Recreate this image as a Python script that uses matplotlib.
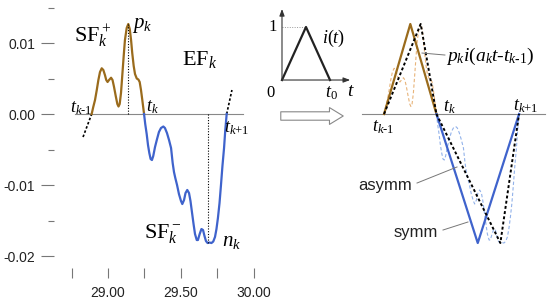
import matplotlib
matplotlib.use("Agg")
import matplotlib.pyplot as plt

plt.rcParams["font.family"] = ["Liberation Sans", "DejaVu Sans"]
plt.rcParams["mathtext.fontset"] = "custom"
plt.rcParams["mathtext.rm"] = "Liberation Serif"
plt.rcParams["mathtext.it"] = "Liberation Serif:italic"
plt.rcParams["axes.unicode_minus"] = False

# --- data ------------------------------------------------------------------
# positive part of the signal (SF_k^+), time in s, amplitude
pos_t = [28.888, 28.899, 28.911, 28.923, 28.934, 28.945, 28.957, 28.968, 28.979,
         28.988, 28.997, 29.007, 29.021, 29.031, 29.041, 29.053, 29.064, 29.072,
         29.080, 29.089, 29.098, 29.108, 29.116, 29.128, 29.139, 29.149, 29.158,
         29.166, 29.176, 29.185, 29.197, 29.208, 29.217, 29.226, 29.235, 29.247]
pos_v = [0.0, 0.00099, 0.00197, 0.00338, 0.00479, 0.00591, 0.00644, 0.00620, 0.00549,
         0.00479, 0.00451, 0.00479, 0.00511, 0.00479, 0.00384, 0.00253, 0.00141, 0.00106,
         0.00141, 0.00296, 0.00549, 0.00831, 0.01042, 0.01211, 0.01268, 0.01197, 0.01042,
         0.00859, 0.00676, 0.00563, 0.00500, 0.00486, 0.00451, 0.00338, 0.00197, 0.0]

# negative part of the signal (SF_k^-)
neg_t = [29.247, 29.255, 29.265, 29.274, 29.283, 29.292, 29.301, 29.310, 29.322,
         29.336, 29.349, 29.363, 29.379, 29.390, 29.404, 29.418, 29.432, 29.443,
         29.452, 29.461, 29.473, 29.486, 29.500, 29.509, 29.521, 29.531, 29.543,
         29.555, 29.565, 29.575, 29.586, 29.596, 29.608, 29.616, 29.628, 29.640,
         29.651, 29.661, 29.671, 29.682, 29.695, 29.709, 29.721, 29.733, 29.743,
         29.753, 29.764, 29.774, 29.784, 29.795, 29.803, 29.813]
neg_v = [0.0, -0.00141, -0.00282, -0.00437, -0.00549, -0.00634, -0.00648, -0.00591, -0.00465,
         -0.00352, -0.00253, -0.00197, -0.00176, -0.00197, -0.00268, -0.00366, -0.00479, -0.00690,
         -0.00817, -0.00901, -0.01000, -0.01127, -0.01225, -0.01268, -0.01211, -0.01113, -0.01070,
         -0.01113, -0.01225, -0.01380, -0.01549, -0.01690, -0.01775, -0.01775, -0.01690, -0.01620,
         -0.01634, -0.01718, -0.01789, -0.01817, -0.01810, -0.01817, -0.01796, -0.01732, -0.01620,
         -0.01465, -0.01254, -0.01000, -0.00732, -0.00479, -0.00239, 0.0]

# dotted continuation before t_{k-1} and after t_{k+1}
pre_t = [28.829, 28.888]
pre_v = [-0.00324, 0.0]
post_t = [29.813, 29.849]
post_v = [0.0, 0.00338]

t_prev, t_k, t_next = 28.888, 29.247, 29.813
p_time, p_k = 29.139, 0.01268
n_time, n_k = 29.685, -0.01817

# triangular approximations (right panel)
symm_pos_t = [28.888, 29.068, 29.247]
symm_pos_v = [0.0, 0.01268, 0.0]
asym_pos_t = [28.888, 29.139, 29.247]
asym_pos_v = [0.0, 0.01268, 0.0]
symm_neg_t = [29.247, 29.530, 29.813]
symm_neg_v = [0.0, -0.01817, 0.0]
asym_neg_t = [29.247, 29.685, 29.813]
asym_neg_v = [0.0, -0.01817, 0.0]

# unit triangle i(t)
tri_x = [0.0, 0.5, 1.0]
tri_y = [0.0, 1.0, 0.0]

yticks = [-0.02, -0.01, 0.0, 0.01]
yminor = [-0.015, -0.005, 0.005, 0.015]
xticks = [28.75, 29.0, 29.25, 29.5, 29.75, 30.0]
xlabels = ["", "29.00", "", "29.50", "", "30.00"]

BROWN = "#9a6b1c"
BLUE = "#3f63cc"
W, H = 550, 305


def frac(x0, y0, x1, y1):
    # pixel box (top-left origin) -> figure fractions
    return [x0 / W, 1 - y1 / H, (x1 - x0) / W, (y1 - y0) / H]


fig = plt.figure(figsize=(5.5, 3.05), dpi=100)
ylim = (-0.02169, 0.01606)

# --- left: measured signal -------------------------------------------------
ax = fig.add_axes(frac(54, 0, 262, 268))
ax.set_xlim(28.630, 30.055)
ax.set_ylim(*ylim)
for s in ax.spines.values():
    s.set_visible(False)
ax.set_yticks(yticks)
ax.set_yticklabels([f"{v:.2f}" for v in yticks])
ax.set_yticks(yminor, minor=True)
ax.set_xticks(xticks)
ax.set_xticklabels(xlabels)
ax.tick_params(axis="y", which="major", length=9.5, width=0.8, color="#777",
               pad=4, labelsize=10, labelcolor="#222")
ax.tick_params(axis="y", which="minor", length=4.5, width=0.8, color="#777")
ax.tick_params(axis="x", length=7, width=0.8, color="#777", pad=6,
               labelsize=10, labelcolor="#222")

ax.plot([28.774, 29.925], [0, 0], color="#888", lw=0.8)
ax.plot(pre_t, pre_v, color="black", lw=1.2, ls=(0, (1.5, 1.2)))
ax.plot(post_t, post_v, color="black", lw=1.2, ls=(0, (1.5, 1.2)))
ax.plot(pos_t, pos_v, color=BROWN, lw=1.6, solid_joinstyle="round")
ax.plot(neg_t, neg_v, color=BLUE, lw=1.6, solid_joinstyle="round")
ax.plot([p_time, p_time], [0, p_k], color="black", lw=0.8, ls=(0, (1, 1.5)))
ax.plot([n_time, n_time], [0, n_k], color="black", lw=0.8, ls=(0, (1, 1.5)))

kw = dict(va="center", clip_on=False)
ax.text(28.770, 0.01110, r"$\mathrm{SF}_k^+$", fontsize=16, ha="left", **kw)
ax.text(29.166, 0.01240, r"$p_k$", fontsize=15, ha="left", **kw)
ax.text(29.510, 0.00761, r"$\mathrm{EF}_k$", fontsize=16, ha="left", **kw)
ax.text(28.815, 0.00085, r"$t_{k\text{-}1}$", fontsize=13, ha="center", **kw)
ax.text(29.301, 0.00099, r"$t_k$", fontsize=13, ha="center", **kw)
ax.text(29.884, -0.00197, r"$t_{k\text{+}1}$", fontsize=13, ha="center", **kw)
ax.text(29.250, -0.01680, r"$\mathrm{SF}_k^-$", fontsize=16, ha="left", **kw)
ax.text(29.781, -0.01789, r"$n_k$", fontsize=15, ha="left", **kw)

# --- middle: unit triangle i(t) --------------------------------------------
ai = fig.add_axes(frac(265, 5, 360, 100))
ai.set_xlim(-0.354, 1.625)
ai.set_ylim(-0.377, 1.415)
ai.axis("off")
ai.annotate("", xy=(0, 1.34), xytext=(0, 0),
            arrowprops=dict(arrowstyle="-|>,head_length=0.4,head_width=0.15",
                            color="#333", lw=0.8, shrinkA=0, shrinkB=0))
ai.annotate("", xy=(1.42, 0), xytext=(0, 0),
            arrowprops=dict(arrowstyle="-|>,head_length=0.4,head_width=0.15",
                            color="#333", lw=0.8, shrinkA=0, shrinkB=0))
ai.plot([0, 0.5], [1, 1], color="#999", lw=0.7, ls=(0, (1, 1.5)))
ai.plot(tri_x, tri_y, color="#222", lw=1.6)
ai.text(-0.19, 1.0, "1", fontsize=12, ha="center", va="center", family="Liberation Serif")
ai.text(-0.23, -0.25, "0", fontsize=12, ha="center", va="center", family="Liberation Serif")
ai.text(1.02, -0.25, r"$t_0$", fontsize=13, ha="center", va="center")
ai.text(1.44, -0.22, r"$t$", fontsize=14, ha="center", va="center")
ai.text(1.08, 0.79, r"$i(t)$", fontsize=13, ha="center", va="center")

# hollow arrow
fig.add_artist(plt.matplotlib.patches.FancyArrowPatch(
    (278 / W, 1 - 116 / H), (346 / W, 1 - 116 / H), transform=fig.transFigure,
    arrowstyle="simple,head_length=0.9,head_width=1.1,tail_width=0.55",
    mutation_scale=11, fc="white", ec="#888", lw=0.8))

# --- right: triangular approximation ---------------------------------------
ar = fig.add_axes(frac(355, 0, 550, 268))
ar.set_xlim(28.689, 30.025)
ar.set_ylim(*ylim)
ar.axis("off")
ar.plot([28.737, 29.990], [0, 0], color="#888", lw=0.8)
ar.plot(pos_t, pos_v, color="#e8b47a", lw=0.8, ls=(0, (3, 2)))
ar.plot(neg_t, neg_v, color="#92b2ea", lw=0.8, ls=(0, (3, 2)))
ar.plot(symm_pos_t, symm_pos_v, color=BROWN, lw=1.6)
ar.plot(symm_neg_t, symm_neg_v, color=BLUE, lw=1.6)
ar.plot(asym_pos_t, asym_pos_v, color="black", lw=1.4, ls=(0, (1.5, 1.2)))
ar.plot(asym_neg_t, asym_neg_v, color="black", lw=1.4, ls=(0, (1.5, 1.2)))

ar.plot([29.148, 29.305], [0.00859, 0.00831], color="#777", lw=0.7)
ar.plot([29.114, 29.388], [-0.00972, -0.00746], color="#777", lw=0.7)
ar.plot([29.292, 29.463], [-0.01634, -0.01521], color="#777", lw=0.7)

ar.text(29.315, 0.00810, r"$p_k i(a_k t\text{-}t_{k\text{-}1})$", fontsize=14, ha="left", **kw)
ar.text(28.894, -0.01000, "asymm", fontsize=12, ha="center", color="#222", **kw)
ar.text(29.107, -0.01662, "symm", fontsize=12, ha="center", color="#222", **kw)
ar.text(28.881, -0.00183, r"$t_{k\text{-}1}$", fontsize=13, ha="center", **kw)
ar.text(29.333, 0.00099, r"$t_k$", fontsize=13, ha="center", **kw)
ar.text(29.860, 0.00113, r"$t_{k\text{+}1}$", fontsize=13, ha="center", **kw)

fig.savefig("out.png", dpi=100, facecolor="white")
